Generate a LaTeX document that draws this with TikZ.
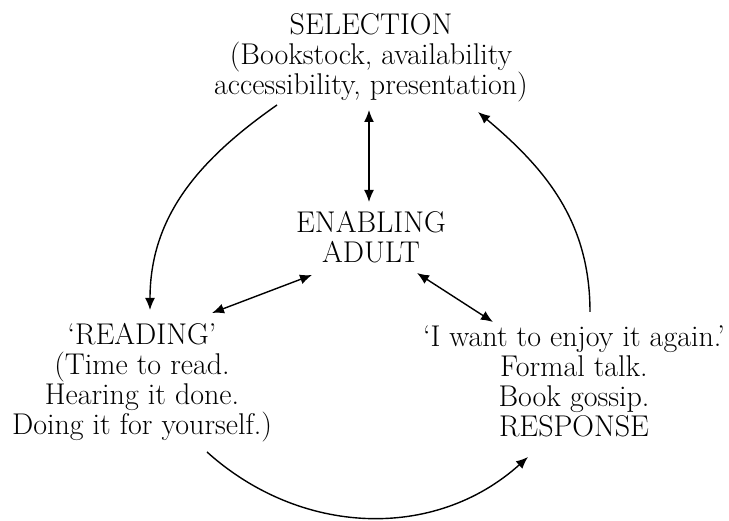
\documentclass[tikz,border=0pt]{standalone}
\usepackage{tikz}
\usetikzlibrary{arrows.meta}
\begin{document}
\begin{tikzpicture}[x=1pt, y=1pt, >={Latex[length=12pt, width=10pt]}]
\tikzset{lbl/.style={align=center, inner sep=0pt, anchor=base, font=\fontsize{30}{30}\selectfont},
  link/.style={line width=1.4pt}}
\useasboundingbox (0,0) rectangle (729,521);

\node[lbl] (sel) at (371,426) {SELECTION\\(Bookstock, availability\\accessibility, presentation)};
\node[lbl] (adult) at (371,258) {ENABLING\\ADULT};
\node[lbl] (read) at (142,86) {`READING'\\(Time to read.\\Hearing it done.\\Doing it for yourself.)};
\node[lbl] (resp) at (574,84) {`I want to enjoy it again.'\\Formal talk.\\Book gossip.\\RESPONSE};

\coordinate (sel-a) at (369,411);
\coordinate (adult-a) at (369,319);
\coordinate (adult-b) at (312,246);
\coordinate (read-a) at (212,208);
\coordinate (adult-c) at (417,248);
\coordinate (resp-a) at (493,199);
\coordinate (sel-b) at (277,416);
\coordinate (read-b) at (150,211);
\coordinate (read-c) at (207,69);
\coordinate (resp-b) at (528,64);
\coordinate (resp-c) at (590,209);
\coordinate (sel-c) at (478,409);

\draw[link, <->] (sel-a) -- (adult-a);
\draw[link, <->] (adult-b) -- (read-a);
\draw[link, <->] (adult-c) -- (resp-a);
\draw[link, ->] (sel-b) to[out=215, in=90] (read-b);
\draw[link, ->] (read-c) to[out=-42, in=222] (resp-b);
\draw[link, ->] (resp-c) to[out=90, in=-40] (sel-c);
\end{tikzpicture}
\end{document}
